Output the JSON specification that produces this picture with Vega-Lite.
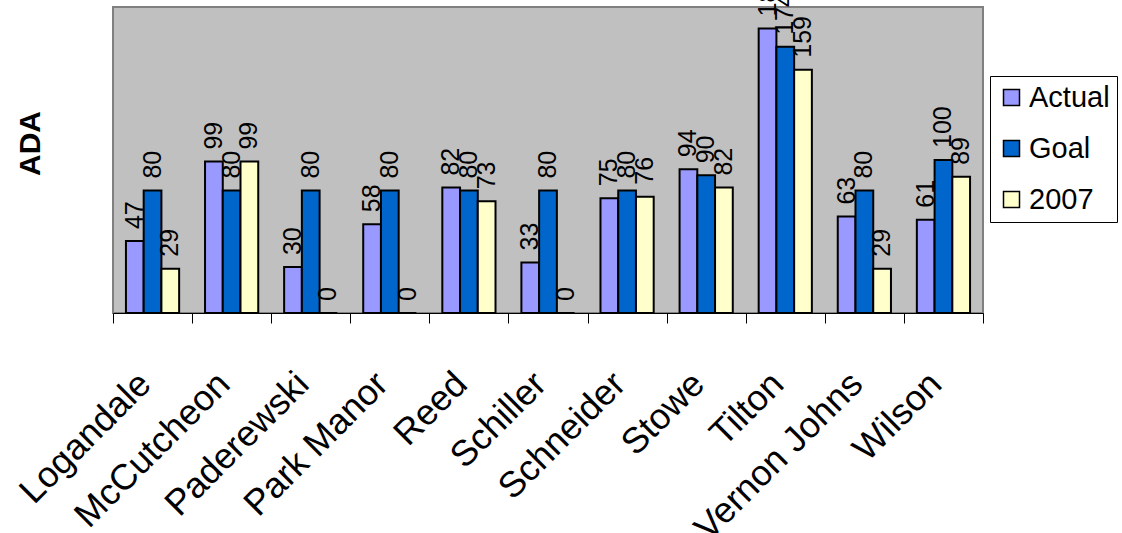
{
  "$schema": "https://vega.github.io/schema/vega-lite/v6.json",
  "autosize": {"type": "none"},
  "padding": {"left": 113, "top": 7, "right": 139, "bottom": 220},
  "width": 870,
  "height": 306,
  "background": "white",
  "config": {
    "font": "Liberation Sans",
    "view": {"fill": "#C0C0C0", "stroke": "#808080", "strokeWidth": 2}
  },
  "data": {
    "values": [
      {"school": "Logandale", "series": "Actual", "value": 47},
      {"school": "Logandale", "series": "Goal", "value": 80},
      {"school": "Logandale", "series": "2007", "value": 29},
      {"school": "McCutcheon", "series": "Actual", "value": 99},
      {"school": "McCutcheon", "series": "Goal", "value": 80},
      {"school": "McCutcheon", "series": "2007", "value": 99},
      {"school": "Paderewski", "series": "Actual", "value": 30},
      {"school": "Paderewski", "series": "Goal", "value": 80},
      {"school": "Paderewski", "series": "2007", "value": 0},
      {"school": "Park Manor", "series": "Actual", "value": 58},
      {"school": "Park Manor", "series": "Goal", "value": 80},
      {"school": "Park Manor", "series": "2007", "value": 0},
      {"school": "Reed", "series": "Actual", "value": 82},
      {"school": "Reed", "series": "Goal", "value": 80},
      {"school": "Reed", "series": "2007", "value": 73},
      {"school": "Schiller", "series": "Actual", "value": 33},
      {"school": "Schiller", "series": "Goal", "value": 80},
      {"school": "Schiller", "series": "2007", "value": 0},
      {"school": "Schneider", "series": "Actual", "value": 75},
      {"school": "Schneider", "series": "Goal", "value": 80},
      {"school": "Schneider", "series": "2007", "value": 76},
      {"school": "Stowe", "series": "Actual", "value": 94},
      {"school": "Stowe", "series": "Goal", "value": 90},
      {"school": "Stowe", "series": "2007", "value": 82},
      {"school": "Tilton", "series": "Actual", "value": 186},
      {"school": "Tilton", "series": "Goal", "value": 174},
      {"school": "Tilton", "series": "2007", "value": 159},
      {"school": "Vernon Johns", "series": "Actual", "value": 63},
      {"school": "Vernon Johns", "series": "Goal", "value": 80},
      {"school": "Vernon Johns", "series": "2007", "value": 29},
      {"school": "Wilson", "series": "Actual", "value": 61},
      {"school": "Wilson", "series": "Goal", "value": 100},
      {"school": "Wilson", "series": "2007", "value": 89}
    ]
  },
  "encoding": {
    "x": {
      "field": "school",
      "type": "nominal",
      "sort": null,
      "scale": {"paddingInner": 0, "paddingOuter": 0},
      "axis": {
        "title": null,
        "labelAngle": -45,
        "labelAlign": "right",
        "labelBaseline": "middle",
        "labelFontSize": 36,
        "labelColor": "black",
        "labelPadding": 55,
        "labelOffset": -8,
        "tickBand": "extent",
        "tickSize": 10,
        "tickColor": "black",
        "tickWidth": 1,
        "domainColor": "black",
        "domainWidth": 1,
        "labelOverlap": false,
        "labelLimit": 0
      }
    },
    "xOffset": {
      "field": "series",
      "type": "nominal",
      "sort": ["Actual", "Goal", "2007"],
      "scale": {"paddingInner": 0, "paddingOuter": 0.73}
    },
    "y": {
      "field": "value",
      "type": "quantitative",
      "scale": {"domain": [0, 200], "nice": false},
      "axis": {
        "title": "ADA",
        "titleFontSize": 30,
        "titleFontWeight": "bold",
        "titleColor": "black",
        "titleAngle": 270,
        "titleX": -83,
        "titleY": 136,
        "titleAlign": "center",
        "titleBaseline": "middle",
        "labels": false,
        "ticks": false,
        "domain": false,
        "grid": false
      }
    }
  },
  "layer": [
    {
      "mark": {"type": "bar", "stroke": "black", "strokeWidth": 2},
      "encoding": {
        "color": {
          "field": "series",
          "type": "nominal",
          "sort": ["Actual", "Goal", "2007"],
          "scale": {"domain": ["Actual", "Goal", "2007"], "range": ["#9999FF", "#0066CC", "#FFFFCC"]},
          "legend": {
            "title": null,
            "orient": "none",
            "legendX": 877,
            "legendY": 69,
            "fillColor": "white",
            "strokeColor": "black",
            "padding": 7,
            "symbolType": "square",
            "symbolSize": 256,
            "symbolStrokeColor": "black",
            "symbolStrokeWidth": 1.5,
            "symbolOpacity": 1,
            "labelFontSize": 29,
            "labelColor": "black",
            "labelOffset": 3,
            "rowPadding": 21,
            "labelLimit": 0
          }
        }
      }
    },
    {
      "mark": {"type": "text", "angle": 270, "align": "left", "baseline": "middle", "dx": 12, "fontSize": 25, "color": "black"},
      "encoding": {"text": {"field": "value", "type": "quantitative"}}
    }
  ]
}
